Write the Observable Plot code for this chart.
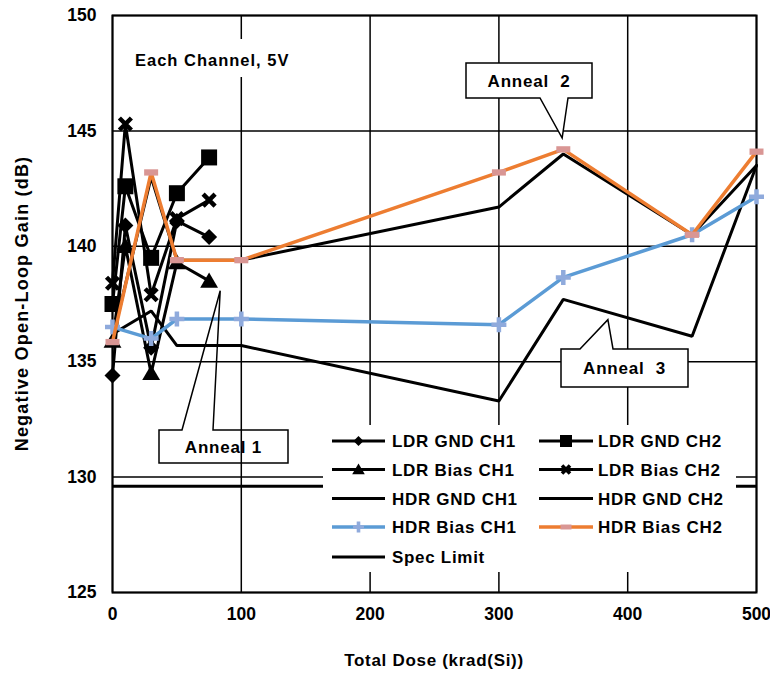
<!DOCTYPE html>
<html><head><meta charset="utf-8">
<script src="https://cdn.jsdelivr.net/npm/d3@7"></script>
<script src="https://cdn.jsdelivr.net/npm/@observablehq/plot@0.6"></script>
<style>body{margin:0;background:#fff} svg{display:block}</style>
</head><body><div id="chart"></div>
<script>
// ---- data ----
const xTicks = [0, 100, 200, 300, 400, 500];
const yTicks = [125, 130, 135, 140, 145, 150];
const ldrDose = [0, 10, 30, 50, 75];
const ldrGndCh1 = [134.4, 140.9, 135.6, 141.1, 140.4];
const ldrGndCh2 = [137.5, 142.6, 139.5, 142.3, 143.85];
const ldrBiasCh1 = [135.9, 140.0, 134.5, 139.3, 138.5];
const ldrBiasCh2 = [138.4, 145.3, 137.9, 141.2, 142.0];
const hdrDose = [0, 30, 50, 100, 300, 350, 450, 500];
const hdrGndCh1 = [136.2, 137.2, 135.7, 135.7, 133.3, 137.7, 136.1, 143.5];
const hdrGndCh2 = [136.0, 143.0, 139.4, 139.4, 141.7, 144.0, 140.5, 143.5];
const hdrBiasCh1 = [136.5, 136.0, 136.85, 136.85, 136.6, 138.65, 140.5, 142.15];
const hdrBiasCh2 = [135.85, 143.2, 139.4, 139.4, 143.2, 144.2, 140.5, 144.1];
const specLimit = 129.6;
const seriesNames = ["LDR GND CH1", "LDR GND CH2", "LDR Bias CH1", "LDR Bias CH2",
  "HDR GND CH1", "HDR GND CH2", "HDR Bias CH1", "HDR Bias CH2", "Spec Limit"];
const annotationTexts = ["Each Channel, 5V", "Anneal 1", "Anneal  2", "Anneal  3"];

// ---- symbols ----
const symDiamond = {draw(ctx, size){ const r = Math.sqrt(size/Math.PI); ctx.moveTo(0,-r); ctx.lineTo(r,0); ctx.lineTo(0,r); ctx.lineTo(-r,0); ctx.closePath(); }};
const symSquare = {draw(ctx, size){ const r = Math.sqrt(size/Math.PI); ctx.rect(-r,-r,2*r,2*r); }};
const symTriangle = {draw(ctx, size){ const r = Math.sqrt(size/Math.PI); ctx.moveTo(0,-r); ctx.lineTo(r*1.05,r*0.8); ctx.lineTo(-r*1.05,r*0.8); ctx.closePath(); }};
const symTimes = {draw(ctx, size){ const r = Math.sqrt(size/Math.PI); ctx.moveTo(-r,-r); ctx.lineTo(r,r); ctx.moveTo(r,-r); ctx.lineTo(-r,r); }};
const symPlus = {draw(ctx, size){ const r = Math.sqrt(size/Math.PI); ctx.moveTo(-r,0); ctx.lineTo(r,0); ctx.moveTo(0,-r); ctx.lineTo(0,r); }};
const symDash = {draw(ctx, size){ const r = Math.sqrt(size/Math.PI); ctx.rect(-r,-r*0.45,2*r,r*0.9); }};

const series = [
  {name: seriesNames[0], dose: ldrDose, values: ldrGndCh1, color: "#000", width: 3, sym: symDiamond, r: 8, mfill: "#000", lr: 5},
  {name: seriesNames[1], dose: ldrDose, values: ldrGndCh2, color: "#000", width: 3, sym: symSquare, r: 8, mfill: "#000", lr: 6},
  {name: seriesNames[2], dose: ldrDose, values: ldrBiasCh1, color: "#000", width: 3, sym: symTriangle, r: 8.5, mfill: "#000", lr: 6},
  {name: seriesNames[3], dose: ldrDose, values: ldrBiasCh2, color: "#000", width: 3, sym: symTimes, r: 6, mstroke: "#000", msw: 4.5, lr: 4},
  {name: seriesNames[4], dose: hdrDose, values: hdrGndCh1, color: "#000", width: 3},
  {name: seriesNames[5], dose: hdrDose, values: hdrGndCh2, color: "#000", width: 3},
  {name: seriesNames[6], dose: hdrDose, values: hdrBiasCh1, color: "#5b9bd5", width: 3.5, sym: symPlus, r: 7.5, mstroke: "#8faadc", msw: 4.5, lr: 5.5},
  {name: seriesNames[7], dose: hdrDose, values: hdrBiasCh2, color: "#ed7d31", width: 3.5, sym: symDash, r: 7, mfill: "#d99694", lr: 5.5}
];

const FONT = "'Liberation Sans', Arial, sans-serif";
const marks = [
  Plot.gridX({ticks: xTicks, stroke: "#000", strokeOpacity: 1, strokeWidth: 1.5}),
  Plot.gridY({ticks: yTicks, stroke: "#000", strokeOpacity: 1, strokeWidth: 1.5}),
  Plot.ruleY([specLimit], {stroke: "#000", strokeWidth: 3}),
  Plot.frame({stroke: "#000", strokeWidth: 2}),
  Plot.axisX({ticks: xTicks, tickSize: 0, tickPadding: 15, label: null}),
  Plot.axisY({ticks: yTicks, tickSize: 0, tickPadding: 16, label: null})
];
for (const s of series) {
  const pts = s.dose.map((d, i) => ({dose: d, gain: s.values[i]}));
  marks.push(Plot.line(pts, {x: "dose", y: "gain", stroke: s.color, strokeWidth: s.width, strokeLinejoin: "miter"}));
  if (s.sym) {
    marks.push(Plot.dot(pts, {x: "dose", y: "gain", symbol: s.sym, r: s.r,
      fill: s.mfill || "none", stroke: s.mstroke || "none", strokeWidth: s.msw || 0}));
  }
}

const chart = Plot.plot({
  width: 770, height: 673,
  marginLeft: 112, marginRight: 14, marginTop: 15, marginBottom: 81,
  style: {fontFamily: FONT, fontSize: "17.5px", fontWeight: "bold", background: "#fff", color: "#000"},
  x: {domain: [0, 500]},
  y: {domain: [125, 150]},
  marks
});
document.getElementById("chart").appendChild(chart);

const sx = chart.scale("x"), sy = chart.scale("y");
const svg = d3.select(chart);
const px = v => sx.apply(v), py = v => sy.apply(v);
function txt(sel, size, ls) {
  return sel.attr("font-family", FONT).attr("font-size", size).attr("font-weight", "bold")
    .attr("letter-spacing", ls).attr("fill", "#000");
}

// axis titles
txt(svg.append("text"), 17, "0.7px").attr("x", (px(0)+px(500))/2).attr("y", 666).attr("text-anchor", "middle")
  .text("Total Dose (krad(Si))");
txt(svg.append("text"), 18, "1.2px").attr("transform", `translate(22,${(py(125)+py(150))/2}) rotate(-90)`).attr("dy", "0.35em")
  .attr("text-anchor", "middle").text("Negative Open-Loop Gain (dB)");

// Each Channel label
const ec = svg.append("g");
ec.append("rect").attr("x", 128).attr("y", 39).attr("width", 172).attr("height", 38).attr("fill", "#fff");
txt(ec.append("text"), 16.5, "1px").attr("x", 135).attr("y", 66).attr("text-anchor", "start").text(annotationTexts[0]);

// callouts
function callout(box, tip, base, side, fill, label) {
  const [x0, y0, x1, y1] = box;
  let d;
  if (side === "bottom") d = `M${x0},${y0}H${x1}V${y1}H${base[1]}L${tip[0]},${tip[1]}L${base[0]},${y1}H${x0}Z`;
  else d = `M${x0},${y1}H${x1}V${y0}H${base[1]}L${tip[0]},${tip[1]}L${base[0]},${y0}H${x0}Z`;
  svg.append("path").attr("d", d).attr("fill", fill).attr("stroke", "#000").attr("stroke-width", 1.5);
  txt(svg.append("text"), 17, "0.8px").attr("x", (x0+x1)/2).attr("y", (y0+y1)/2).attr("dy", "0.36em").attr("text-anchor", "middle")
    .style("white-space", "pre").text(label);
}
callout([159, 430, 288, 463], [px(84), py(138.05)], [182, 213], "top", "none", annotationTexts[1]);
callout([466, 63, 592, 98], [px(349.5), py(144.67)], [540, 568], "bottom", "#fff", annotationTexts[2]);
callout([561, 349, 688, 387], [px(385), py(136.8)], [580, 613], "top", "#fff", annotationTexts[3]);

// legend
const lg = svg.append("g");
lg.append("rect").attr("x", 323).attr("y", 425).attr("width", 413).attr("height", 147).attr("fill", "#fff");
const rowsY = [441, 469.5, 498.5, 527, 557];
const legendItems = [...series, {name: seriesNames[8], color: "#000", width: 3}];
legendItems.forEach((s, i) => {
  const col = i === 8 ? 0 : i % 2, row = i === 8 ? 4 : Math.floor(i / 2);
  const x1 = col === 0 ? 332 : 539, x2 = col === 0 ? 385 : 593, tx = col === 0 ? 392 : 598;
  const y = rowsY[row];
  lg.append("line").attr("x1", x1).attr("x2", x2).attr("y1", y).attr("y2", y).attr("stroke", s.color).attr("stroke-width", s.width);
  if (s.sym) {
    lg.append("path").attr("transform", `translate(${(x1+x2)/2},${y})`)
      .attr("d", d3.symbol(s.sym, Math.PI*s.lr*s.lr)())
      .attr("fill", s.mfill || "none").attr("stroke", s.mstroke || "none").attr("stroke-width", s.msw ? s.msw*0.8 : 0);
  }
  txt(lg.append("text"), 17, "0.7px").attr("x", tx).attr("y", y).attr("dy", "0.36em").attr("text-anchor", "start").text(s.name);
});
</script>
</body></html>
